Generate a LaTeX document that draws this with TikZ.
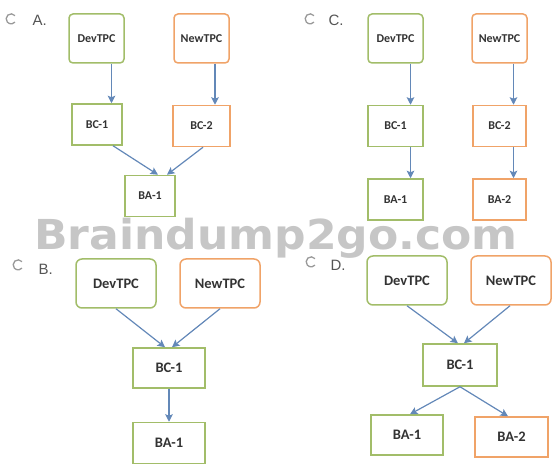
\documentclass[tikz,border=0pt]{standalone}
\usepackage{fontspec}
\setmainfont{Carlito}
\newfontfamily\optfont{Liberation Sans}
\newfontfamily\markfont{DejaVu Sans}
\usetikzlibrary{arrows.meta,positioning}
\usepackage{xcolor}
\definecolor{grncol}{HTML}{A2BD69}
\definecolor{orgcol}{HTML}{F0A368}
\definecolor{arrcol}{HTML}{6388B8}
\definecolor{labcol}{HTML}{555555}

\begin{document}
\begin{tikzpicture}[x=1pt, y=-1pt,
  box/.style={draw, line width=1.5pt, fill=white, inner sep=0pt, text=black!80,
              font=\bfseries\fontsize{12}{14}\selectfont},
  tpc/.style={box, rounded corners=4pt, minimum width=55pt, minimum height=49pt},
  unit/.style={box, minimum width=51pt, minimum height=41pt},
  large/.style={font=\bfseries\fontsize{14.5}{16}\selectfont},
  grn/.style={draw=grncol},
  org/.style={draw=orgcol},
  flow/.style={-{Stealth[length=7.5pt,width=7.5pt,inset=1.5pt]}, draw=arrcol, line width=1.2pt},
  radio/.style={circle, minimum size=10pt, inner sep=0pt},
  radioarc/.style={draw=gray!80, line width=1.3pt},
  opt/.style={anchor=base west, font=\optfont\fontsize{15}{15}\selectfont, text=labcol}]
  \useasboundingbox (0,0) rectangle (560,470);

  % option A
  \node[radio] (radA) at (11,19) {};
  \draw[radioarc] (radA.40) arc[start angle=40, end angle=320, radius=5pt];
  \node[opt] (optA) at (29,26) {A.};
  \node[tpc, grn] (devA) at (96.5,38.5) {DevTPC};
  \node[tpc, org] (newA) at (201.5,38.5) {NewTPC};
  \node[unit, grn, minimum width=50pt] (bc1A) at (97,124.5) {BC-1};
  \node[unit, org, minimum width=57pt, below=41pt of newA] (bc2A) {BC-2};
  \node[unit, grn, minimum width=50pt] (ba1A) at (150,196) {BA-1};
  \draw[flow] ([xshift=15pt]devA.south) -- ([xshift=14.5pt]bc1A.north);
  \draw[flow] ([xshift=13.5pt]newA.south) -- ([xshift=13.5pt]bc2A.north);
  \draw[flow] ([xshift=16pt]bc1A.south) -- ([xshift=8pt]ba1A.north);
  \draw[flow] ([xshift=1.5pt]bc2A.south) -- ([xshift=17pt]ba1A.north);

  % option C
  \node[radio] (radC) at (310,19) {};
  \draw[radioarc] (radC.40) arc[start angle=40, end angle=320, radius=5pt];
  \node[opt] (optC) at (325,26) {C.};
  \node[tpc, grn] (devC) at (395.5,38.5) {DevTPC};
  \node[tpc, org] (newC) at (499.5,38.5) {NewTPC};
  \node[unit, grn, minimum width=55pt, below=41pt of devC] (bc1C) {BC-1};
  \node[unit, org, minimum width=53pt, below=41pt of newC] (bc2C) {BC-2};
  \node[unit, grn, minimum width=55pt, below=31pt of bc1C] (ba1C) {BA-1};
  \node[unit, org, minimum width=53pt, below=31pt of bc2C] (ba2C) {BA-2};
  \draw[flow] ([xshift=15pt]devC.south) -- ([xshift=15pt]bc1C.north);
  \draw[flow] ([xshift=14pt]newC.south) -- ([xshift=14pt]bc2C.north);
  \draw[flow] ([xshift=15pt]bc1C.south) -- ([xshift=15pt]ba1C.north);
  \draw[flow] ([xshift=14pt]bc2C.south) -- ([xshift=14pt]ba2C.north);

  % watermark
  \node[anchor=base west, inner sep=0pt, text=gray!45,
        font=\markfont\bfseries\fontsize{43}{43}\selectfont] (wmark) at (34,250)
        {\scalebox{1.025}[0.96]{Braindump2go.com}};

  % option B
  \node[radio] (radB) at (18,265) {};
  \draw[radioarc] (radB.40) arc[start angle=40, end angle=320, radius=5pt];
  \node[opt] (optB) at (35,275) {B.};
  \node[tpc, grn, large, minimum width=80pt, rounded corners=6pt] (devB) at (116,283.5) {DevTPC};
  \node[tpc, org, large, minimum width=80pt, rounded corners=6pt] (newB) at (220,283.5) {NewTPC};
  \node[unit, grn, large, minimum width=72pt, minimum height=40pt] (bc1B) at (169,368) {BC-1};
  \node[unit, grn, large, minimum width=72pt, below=33pt of bc1B] (ba1B) {BA-1};
  \draw[flow] (devB.south) -- ([xshift=-4pt]bc1B.north);
  \draw[flow] (newB.south) -- ([xshift=3pt]bc1B.north);
  \draw[flow] (bc1B.south) -- (ba1B.north);

  % option D
  \node[radio] (radD) at (311,262) {};
  \draw[radioarc] (radD.40) arc[start angle=40, end angle=320, radius=5pt];
  \node[opt] (optD) at (327,271) {D.};
  \node[tpc, grn, large, minimum width=80pt, rounded corners=6pt] (devD) at (407,280.5) {DevTPC};
  \node[tpc, org, large, minimum width=80pt, rounded corners=6pt] (newD) at (511,280.5) {NewTPC};
  \node[unit, grn, large, minimum width=74pt, minimum height=42pt] (bc1D) at (460,365) {BC-1};
  \node[unit, grn, large, minimum width=72pt, minimum height=40pt] (ba1D) at (407,435) {BA-1};
  \node[unit, org, large, minimum width=73pt, minimum height=40pt] (ba2D) at (511.5,437) {BA-2};
  \draw[flow] (devD.south) -- ([xshift=-2pt]bc1D.north);
  \draw[flow] ([xshift=-1pt]newD.south) -- ([xshift=4pt]bc1D.north);
  \draw[flow] (bc1D.south) -- ([xshift=3pt]ba1D.north);
  \draw[flow] (bc1D.south) -- ([xshift=-3.5pt]ba2D.north);
\end{tikzpicture}
\end{document}
